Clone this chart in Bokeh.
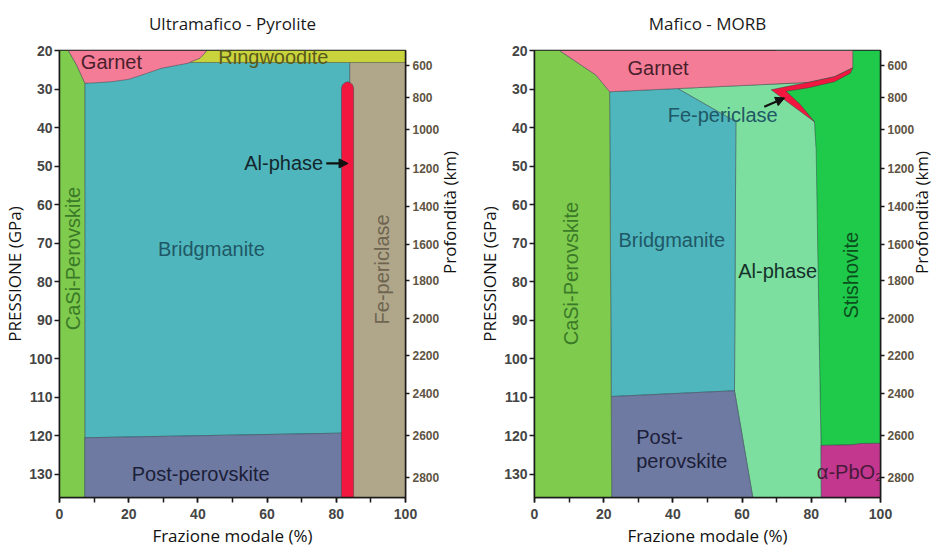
import math
from bokeh.plotting import figure
from bokeh.layouts import row
from bokeh.models import Range1d, LinearAxis, FixedTicker, SingleIntervalTicker, Arrow, NormalHead, Title
from bokeh.core.properties import value
from bokeh.embed import file_html
from bokeh.resources import INLINE

# ---------------- axis data ----------------
pressure_ticks = [20, 30, 40, 50, 60, 70, 80, 90, 100, 110, 120, 130]
fraction_major = 20
depth_km = [600, 800, 1000, 1200, 1400, 1600, 1800, 2000, 2200, 2400, 2600, 2800]
depth_at_gpa = [23.9, 32.3, 40.6, 50.5, 60.6, 70.3, 79.6, 89.5, 99.1, 109.0, 119.9, 130.7]
P_TOP, P_BOTTOM = 20, 136

# ---------------- Ultramafico - Pyrolite (x = modal %, y = GPa) ----------------
pyr_bridgmanite_x = [7.3, 37.2, 83.9, 83.9, 81.5, 7.3]
pyr_bridgmanite_p = [28.5, 23.1, 23.1, 119.3, 119.3, 120.5]
pyr_feper_x = [83.9, 100, 100, 83.9]
pyr_feper_p = [23.1, 23.1, 136, 136]
pyr_ringwoodite_x = [42.5, 100, 100, 37.2, 38.6, 40.6, 42.0]
pyr_ringwoodite_p = [20, 20, 23.1, 23.1, 22.7, 22.0, 20.7]
pyr_garnet_x = [2.5, 42.5, 42.0, 40.6, 38.6, 37.2, 29.5, 23.7, 19.9, 15.0, 10.2, 7.3, 4.9]
pyr_garnet_p = [20, 20, 20.7, 22.0, 22.7, 23.3, 24.6, 26.4, 27.5, 28.1, 28.4, 28.5, 23.8]
pyr_casi_x = [0, 2.5, 4.9, 7.3, 7.3, 0]
pyr_casi_p = [20, 20, 23.8, 28.5, 136, 136]
pyr_postperov_x = [7.3, 81.5, 81.5, 7.3]
pyr_postperov_p = [120.5, 119.3, 136, 136]
pyr_alphase_x = [81.5, 81.8, 82.5, 83.25, 84.0, 84.7, 85.0, 85.0, 81.5]
pyr_alphase_p = [29.7, 28.9, 28.35, 28.1, 28.35, 28.9, 29.7, 136, 136]

# ---------------- Mafico - MORB ----------------
morb_stishovite_x = [70, 100, 100, 82.8, 80.9, 70]
morb_stishovite_p = [20, 20, 122.2, 122.5, 38.5, 30]
morb_alphase_x = [41.4, 79.0, 72.7, 80.9, 81.4, 82.8, 82.9, 63.1, 57.8, 58.2]
morb_alphase_p = [29.87, 28.3, 30.5, 38.5, 45.8, 122.5, 136, 136, 108.3, 38.5]
morb_bridgmanite_x = [21.7, 41.4, 58.2, 57.8, 22.2]
morb_bridgmanite_p = [30.7, 29.87, 38.5, 108.3, 109.8]
morb_postperov_x = [22.2, 57.8, 63.1, 22.3]
morb_postperov_p = [109.8, 108.3, 136, 136]
morb_casi_x = [0, 7.2, 17.8, 21.7, 22.3, 0]
morb_casi_p = [20, 20, 26.4, 30.7, 136, 136]
morb_pbo2_x = [82.8, 88, 92, 94, 100, 100, 82.9]
morb_pbo2_p = [122.5, 122.4, 122.3, 122.0, 121.9, 136, 136]
morb_garnet_x = [7.2, 92.0, 92.0, 86.7, 79.0, 21.7, 17.8]
morb_garnet_p = [20, 20, 24.5, 26.8, 28.3, 30.7, 26.4]
morb_feper_x = [92.0, 86.7, 79.0, 73.2, 68.4, 74.5, 80.9, 76.8, 72.7, 79.0, 86.7, 91.3]
morb_feper_p = [24.5, 26.8, 28.3, 29.3, 30.2, 34.3, 38.5, 34.0, 30.6, 29.7, 28.1, 25.9]

# ---------------- labels ----------------
pyr_labels = [
    # text, x, P, angle, color, align
    ("Garnet", 15.0, 23.0, 0, "#4a1f2c", "center"),
    ("Ringwoodite", 61.8, 21.7, 0, "#5a5a1c", "center"),
    ("Bridgmanite", 43.9, 71.4, 0, "#1f5866", "center"),
    ("Al-phase", 76.2, 49.3, 0, "#14262c", "right"),
    ("CaSi-Perovskite", 3.95, 74.0, 90, "#3a7a28", "center"),
    ("Fe-periclase", 93.1, 76.8, 90, "#6e6450", "center"),
    ("Post-perovskite", 40.8, 129.8, 0, "#1c2038", "center"),
]
pyr_arrow = (77.1, 49.3, 83.4, 49.3)

morb_labels = [
    ("Garnet", 35.7, 24.5, 0, "#4a1f2c", "center"),
    ("Fe-periclase", 54.4, 36.8, 0, "#1f5866", "center"),
    ("Bridgmanite", 39.7, 69.2, 0, "#1f5866", "center"),
    ("Al-phase", 70.3, 77.2, 0, "#15302a", "center"),
    ("Stishovite", 91.5, 78.3, 90, "#0c4f1e", "center"),
    ("CaSi-Perovskite", 10.6, 77.9, 90, "#3a7a28", "center"),
    ("Post-", 29.4, 120.3, 0, "#1c2038", "left"),
    ("perovskite", 29.4, 126.4, 0, "#1c2038", "left"),
    ("α-PbO₂", 81.6, 129.4, 0, "#4a1a3a", "left"),
]
morb_arrow = (66.4, 34.6, 72.3, 32.3)

COL = {
    "casi": "#7fcb4d", "garnet": "#f47c96", "ring": "#c9d43c", "bridg": "#4fb6bd",
    "postp": "#6f7aa3", "alred": "#f2173f", "feper": "#b0a78b", "alphase": "#7ddf9f",
    "stish": "#1fc94a", "pbo2": "#c3378f",
}

LABEL_FONT = value("Liberation Sans")
FRAME_W, FRAME_H = 346, 447


def make_panel(title, mb_left, mb_right, ra_standoff, phases, labels, arrow):
    p = figure(frame_width=FRAME_W, frame_height=FRAME_H, x_range=Range1d(0, 100),
               y_range=Range1d(P_BOTTOM, P_TOP),
               output_backend="svg", toolbar_location=None,
               min_border_left=mb_left, min_border_right=mb_right, min_border_top=50, min_border_bottom=48)
    p.xgrid.visible = False
    p.ygrid.visible = False
    p.outline_line_color = "#1a1a1a"
    p.outline_line_width = 1.5

    # panel title (outermost) with an empty spacer title between it and the frame
    p.title.text = title
    p.title.align = "center"
    p.title.text_font = "Open Sans"
    p.title.text_font_size = "17px"
    p.title.text_font_style = "normal"
    p.title.text_color = "#1a1a1a"
    p.title.standoff = 0
    p.add_layout(Title(text=" ", text_font_size="8px", standoff=5), "above")

    for xs, ps, c in phases:
        p.patch(xs, ps, fill_color=c, line_color="#2c3f44", line_width=0.8, line_alpha=0.55)

    for txt, x, y, ang, color, align in labels:
        p.text(x=[x], y=[y], text=[txt], angle=ang, angle_units="deg", text_font=LABEL_FONT,
               text_font_size="20px", text_color=color, text_align=align, text_baseline="middle")

    x0, y0, x1, y1 = arrow
    p.add_layout(Arrow(end=NormalHead(size=9, fill_color="#111", line_color="#111"),
                       x_start=x0, y_start=y0, x_end=x1, y_end=y1, line_width=2.2, line_color="#111"))

    # axes
    xa = p.xaxis[0]
    xa.ticker = SingleIntervalTicker(interval=fraction_major, num_minor_ticks=2)
    xa.axis_label = "Frazione modale (%)"
    ya = p.yaxis[0]
    ya.ticker = FixedTicker(ticks=pressure_ticks)
    ya.axis_label = "PRESSIONE (GPa)"
    ra = LinearAxis(ticker=FixedTicker(ticks=depth_at_gpa),
                    major_label_overrides={g: str(d) for g, d in zip(depth_at_gpa, depth_km)},
                    axis_label="Profondità (km)")
    try:
        ra.axis_label_orientation = math.pi / 2
    except Exception:
        pass
    p.add_layout(ra, "right")
    for ax in (xa, ya, ra):
        ax.axis_line_color = "#1a1a1a"
        ax.axis_line_width = 1.5
        ax.major_tick_line_color = "#1a1a1a"
        ax.major_tick_line_width = 1.5
        ax.major_tick_in = 0
        ax.major_tick_out = 5
        ax.minor_tick_line_color = "#1a1a1a"
        ax.minor_tick_line_width = 1.5
        ax.minor_tick_in = 0
        ax.minor_tick_out = 5
        ax.major_label_text_font = "Liberation Sans"
        ax.major_label_text_font_style = "bold"
        ax.major_label_text_font_size = "14px"
        ax.major_label_text_color = "#454545"
        ax.axis_label_text_font = "Open Sans"
        ax.axis_label_text_font_style = "normal"
        ax.axis_label_text_font_size = "17px"
        ax.axis_label_text_color = "#111111"
    xa.major_label_standoff = 6
    xa.axis_label_standoff = 2
    ya.major_label_standoff = 2
    ya.axis_label_standoff = 0
    ra.major_tick_out = 4
    ra.major_label_standoff = 3
    ra.major_label_text_font_size = "12px"
    ra.major_label_text_color = "#5e5443"
    ra.axis_label_standoff = ra_standoff
    return p


pyr_phases = [
    (pyr_bridgmanite_x, pyr_bridgmanite_p, COL["bridg"]),
    (pyr_feper_x, pyr_feper_p, COL["feper"]),
    (pyr_ringwoodite_x, pyr_ringwoodite_p, COL["ring"]),
    (pyr_garnet_x, pyr_garnet_p, COL["garnet"]),
    (pyr_casi_x, pyr_casi_p, COL["casi"]),
    (pyr_postperov_x, pyr_postperov_p, COL["postp"]),
    (pyr_alphase_x, pyr_alphase_p, COL["alred"]),
]
morb_phases = [
    (morb_stishovite_x, morb_stishovite_p, COL["stish"]),
    (morb_alphase_x, morb_alphase_p, COL["alphase"]),
    (morb_bridgmanite_x, morb_bridgmanite_p, COL["bridg"]),
    (morb_postperov_x, morb_postperov_p, COL["postp"]),
    (morb_casi_x, morb_casi_p, COL["casi"]),
    (morb_pbo2_x, morb_pbo2_p, COL["pbo2"]),
    (morb_garnet_x, morb_garnet_p, COL["garnet"]),
    (morb_feper_x, morb_feper_p, COL["alred"]),
]

p1 = make_panel("Ultramafico - Pyrolite", 58, 66, 7, pyr_phases, pyr_labels, pyr_arrow)
p2 = make_panel("Mafico - MORB", 56, 56, 4, morb_phases, morb_labels, morb_arrow)

layout = row(p1, p2)
open("out.html", "w").write(file_html(layout, INLINE))
